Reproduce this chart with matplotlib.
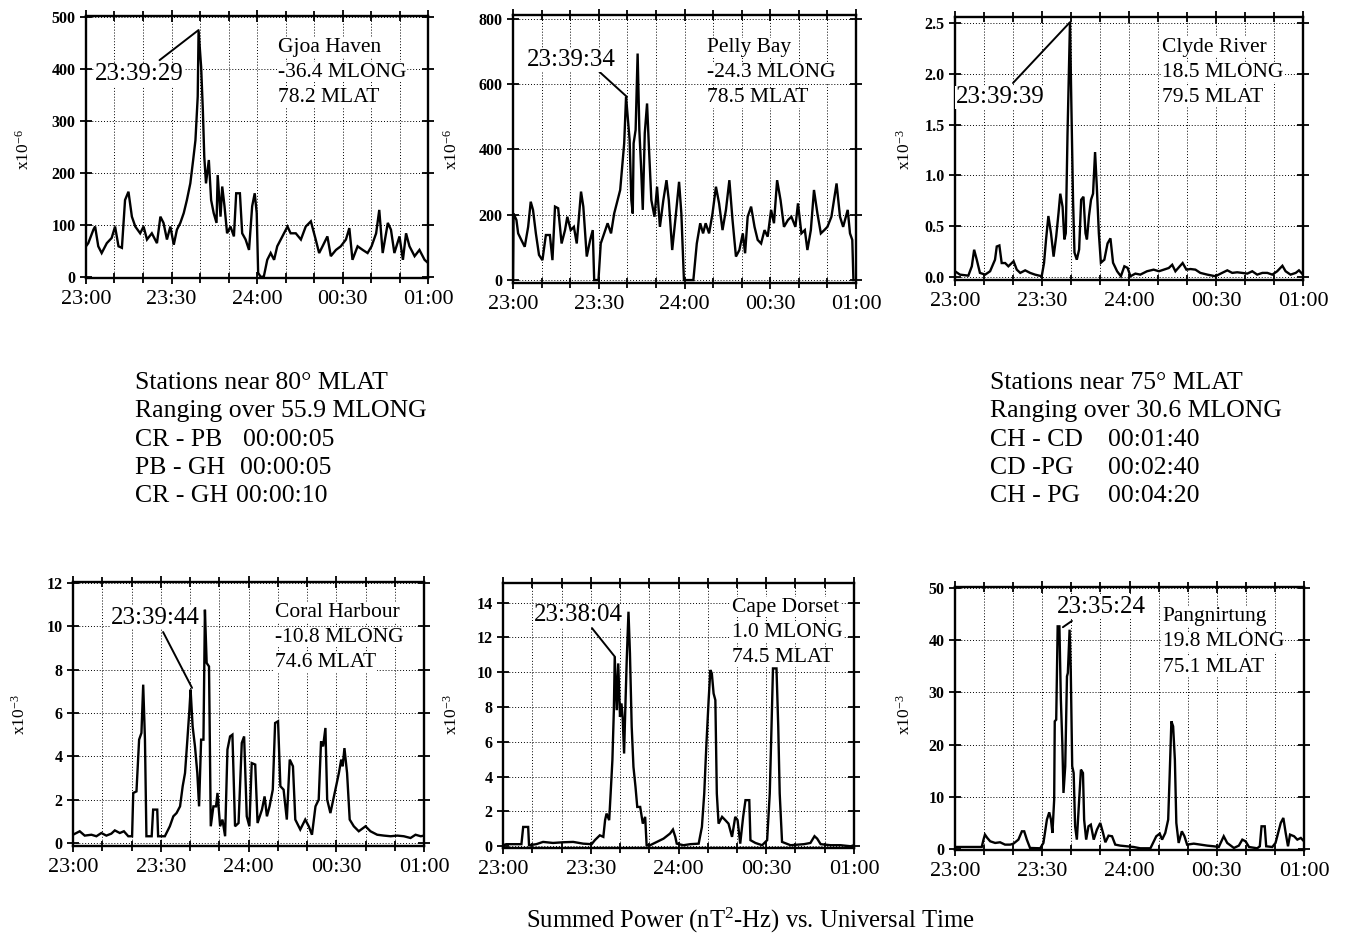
import matplotlib
matplotlib.use('Agg')
import matplotlib.pyplot as plt
from matplotlib.ticker import MultipleLocator, FormatStrFormatter

plt.rcParams['font.family'] = ['Liberation Serif', 'DejaVu Serif']
plt.rcParams['mathtext.fontset'] = 'custom'
plt.rcParams['mathtext.rm'] = 'Liberation Serif'
plt.rcParams['mathtext.it'] = 'Liberation Serif:italic'
plt.rcParams['mathtext.default'] = 'regular'

# ---------------- data (minutes after 23:00 UT, summed power) ----------------
x_tick_labels = ['23:00', '23:30', '24:00', '00:30', '01:00']

gh_t = [0, 0.8, 2.6, 3.2, 4.3, 5.5, 7.3, 9.0, 10.2, 11.4, 12.6, 13.7, 14.9, 16.1, 17.3, 19.0, 20.2, 21.4,
        23.1, 24.9, 26.1, 27.2, 28.4, 29.6, 30.8, 31.9, 33.1, 34.3, 35.4, 36.6, 37.6, 38.4, 39.2, 39.5,
        40.4, 41.0, 41.5, 42.1, 43.1, 43.9, 44.8, 45.8, 46.2, 47.2, 47.8, 48.6, 49.5, 50.7, 51.9, 52.7,
        54.0, 54.8, 56.0, 57.2, 58.3, 59.2, 59.9, 60.4, 61.3, 62.4, 63.6, 64.8, 66.0, 67.1, 68.9, 70.7,
        71.8, 73.6, 75.4, 77.1, 78.9, 80.6, 81.8, 83.0, 84.7, 85.9, 87.7, 89.4, 91.2, 92.4, 93.5, 95.3,
        97.1, 98.8, 100.2, 101.8, 102.9, 104.1, 105.9, 107.0, 108.2, 110.0, 111.2, 112.3, 113.5, 115.3,
        117.0, 118.8, 120]
gh_v = [59, 65, 91, 97, 59, 46, 65, 75, 97, 59, 56, 148, 164, 116, 97, 84, 97, 72,
        84, 65, 116, 104, 72, 97, 62, 91, 104, 123, 148, 180, 225, 263, 347, 474,
        404, 321, 231, 180, 225, 148, 123, 104, 196, 116, 174, 136, 84, 97, 78, 161,
        161, 84, 72, 52, 136, 161, 123, 8, 0, 1, 33, 46, 33, 59, 78, 97,
        84, 84, 72, 97, 107, 72, 46, 59, 78, 40, 52, 59, 72, 94, 33, 59,
        52, 46, 59, 84, 129, 46, 104, 91, 46, 78, 33, 84, 59, 40,
        52, 33, 27]

pb_t = [0, 0.2, 1.2, 1.8, 2.9, 4.1, 5.3, 6.2, 7.0, 8.0, 9.1, 10.3, 11.5, 12.9, 13.8, 14.7, 15.8, 17.0,
        18.2, 19.0, 20.2, 21.3, 22.3, 23.8, 24.6, 25.8, 27.0, 27.9, 28.4, 29.9, 30.7, 31.9, 33.1, 34.3,
        35.4, 36.6, 37.5, 38.5, 38.9, 39.55, 40.8, 41.4, 41.9, 42.2, 42.9, 43.6, 44.2, 44.8, 45.4, 46.1,
        46.9, 47.6, 48.4, 49.5, 50.4, 51.4, 52.6, 53.7, 54.5, 55.7, 56.9, 58.1, 58.9, 59.8, 63.1, 64.3,
        65.5, 66.5, 67.4, 68.6, 69.8, 71.0, 72.1, 73.3, 74.5, 75.7, 76.8, 78.0, 79.2, 80.4, 81.2, 82.1,
        83.3, 84.5, 85.6, 86.8, 88.0, 89.1, 90.3, 91.3, 92.4, 93.6, 94.8, 96.2, 97.4, 98.8, 99.7, 100.9,
        102.1, 103.0, 104.2, 105.3, 106.5, 107.7, 108.9, 110.0, 111.4, 113.2, 114.4, 115.5, 117.1, 117.9,
        118.7, 119.1]
pb_v = [0, 204, 184, 143, 123, 102, 163, 240, 215, 143, 77, 61, 138, 138, 61, 225, 220, 112,
        153, 194, 153, 163, 112, 271, 225, 72, 123, 153, 0, 0, 112, 143, 174, 143,
        204, 245, 276, 378, 419, 562, 429, 245, 204, 419, 460, 694, 460, 347, 215, 450,
        541, 398, 245, 194, 286, 163, 245, 306, 245, 92, 194, 301, 204, 0, 0, 112,
        174, 143, 174, 143, 204, 286, 235, 153, 215, 306, 184, 72, 92, 143, 82, 194,
        225, 163, 123, 112, 153, 133, 215, 174, 306, 245, 163, 184, 194, 163, 235, 143,
        153, 92, 153, 276, 204, 143, 153, 163, 194, 296, 194, 163, 215, 143,
        123, 0]

cr_t = [0, 1.7, 4.6, 5.8, 6.6, 7.5, 8.6, 10.4, 12.1, 13.8, 14.4, 15.3, 16.1, 17.3, 18.4, 20.2, 21.3,
        22.5, 24.2, 25.9, 27.6, 29.9, 30.7, 31.4, 32.2, 33.1, 34.0, 34.9, 35.7, 36.3, 37.1, 37.7, 38.2,
        38.8, 39.65, 40.1, 40.7, 41.2, 42.0, 42.8, 43.5, 44.3, 45.0, 45.5, 46.2, 46.9, 47.6, 48.3, 48.9,
        49.6, 50.3, 51.5, 52.6, 53.6, 54.5, 55.9, 57.2, 58.4, 59.5, 60.5, 62.2, 63.9, 66.2, 68.5, 70.3,
        72.0, 73.7, 74.9, 76.0, 77.5, 78.5, 79.8, 81.2, 82.9, 84.6, 87.0, 89.8, 92.1, 93.9, 95.6, 97.3,
        99.0, 100.8, 102.5, 104.2, 106.0, 107.7, 109.4, 111.1, 112.9, 114.0, 115.7, 117.5, 118.6, 120]
cr_v = [0.056, 0.023, 0.013, 0.105, 0.268, 0.17, 0.04, 0.023, 0.056, 0.17, 0.30, 0.31, 0.137, 0.137,
        0.105, 0.154, 0.072, 0.04, 0.065, 0.04, 0.023, 0.007, 0.137, 0.37, 0.60, 0.43, 0.20, 0.40,
        0.63, 0.82, 0.69, 0.37, 0.43, 1.41, 2.51, 1.74, 0.76, 0.24, 0.17, 0.27, 0.76, 0.79, 0.43,
        0.37, 0.60, 0.76, 0.82, 1.23, 0.89, 0.43, 0.14, 0.17, 0.33, 0.38, 0.14, 0.056, 0.007, 0.105,
        0.09, 0.007, 0.033, 0.023, 0.056, 0.072, 0.056, 0.072, 0.088, 0.12, 0.056, 0.105, 0.137,
        0.072, 0.078, 0.072, 0.04, 0.023, 0.007, 0.04, 0.065, 0.04, 0.046, 0.04, 0.033, 0.056,
        0.023, 0.04, 0.04, 0.023, 0.056, 0.11, 0.056, 0.023, 0.04, 0.065, 0.023]

ch_t = [0, 2.3, 4.0, 6.3, 8.0, 9.7, 11.4, 13.1, 14.3, 16.0, 17.4, 18.9, 20.2, 20.6, 21.7, 22.6, 23.4,
        24.0, 24.6, 25.1, 26.9, 27.4, 28.8, 29.1, 31.4, 33.1, 34.3, 35.4, 36.6, 37.5, 38.3, 39.1, 39.8,
        40.2, 40.9, 41.7, 42.5, 43.1, 43.8, 44.6, 45.1, 45.7, 46.5, 47.1, 48.0, 48.9, 49.4, 50.3, 51.1,
        52.0, 52.8, 53.7, 54.5, 55.4, 56.6, 57.7, 58.5, 59.4, 60.3, 61.1, 62.3, 63.1, 64.6, 65.5, 66.3,
        67.2, 68.3, 69.1, 70.1, 70.9, 72.0, 73.1, 74.1, 75.2, 76.0, 77.7, 79.4, 80.6, 81.7, 82.9, 84.0,
        84.8, 85.5, 86.3, 86.9, 88.0, 89.7, 90.9, 91.7, 92.2, 92.8, 93.7, 94.6, 96.0, 97.7, 100.0,
        101.7, 104.0, 106.3, 108.6, 110.9, 113.1, 115.4, 117.1, 118.9, 120]
ch_v = [0.38, 0.54, 0.34, 0.38, 0.31, 0.46, 0.34, 0.43, 0.58, 0.46, 0.54, 0.31, 0.31, 2.31, 2.38,
        4.77, 5.08, 7.31, 4.77, 0.31, 0.31, 1.54, 1.54, 0.31, 0.31, 0.77, 1.23, 1.38, 1.69, 2.62,
        3.23, 4.77, 6.15, 7.08, 5.38, 4.46, 3.23, 1.69, 4.77, 4.77, 10.77, 8.31, 8.15, 0.77, 1.69,
        1.69, 2.31, 0.77, 1.08, 0.31, 4.31, 4.92, 5.0, 0.77, 0.92, 4.62, 4.92, 1.23, 0.77, 3.69,
        3.62, 0.92, 1.54, 2.15, 1.23, 1.69, 2.46, 5.54, 5.62, 2.62, 2.46, 1.08, 3.85, 3.54, 1.08,
        0.62, 1.08, 0.77, 0.38, 1.69, 2.0, 4.69, 4.46, 5.31, 2.0, 1.38, 2.46, 3.23, 3.85, 3.54,
        4.38, 3.23, 1.08, 0.77, 0.54, 0.77, 0.54, 0.38, 0.34, 0.31, 0.34, 0.31, 0.23, 0.38, 0.31, 0.34]

cd_t = [0, 1.1, 6.3, 6.9, 8.6, 8.9, 11.4, 13.7, 17.1, 20.6, 24.0, 27.4, 30.3, 31.4, 33.1, 34.3, 34.9,
        35.4, 36.3, 36.8, 37.4, 37.9, 38.2, 38.9, 39.4, 40.0, 40.5, 40.9, 41.4, 41.8, 42.3, 42.9, 43.4,
        44.0, 44.6, 45.3, 45.9, 46.9, 47.8, 48.6, 49.1, 50.3, 52.6, 54.9, 57.1, 58.1, 58.9, 59.4, 61.7,
        64.0, 66.9, 68.0, 68.8, 69.5, 70.3, 70.9, 71.4, 72.0, 72.6, 73.1, 73.7, 74.9, 76.0, 77.1, 78.3,
        79.4, 80.2, 81.1, 82.1, 82.9, 84.2, 84.6, 86.3, 88.6, 90.3, 91.2, 91.8, 92.3, 93.5, 94.1, 94.6,
        95.4, 98.3, 102.9, 105.1, 106.5, 107.4, 108.6, 112.0, 115.4, 118.9, 120]
cd_v = [0.06, 0.12, 0.12, 1.11, 1.11, 0.06, 0.12, 0.25, 0.19, 0.23, 0.25, 0.15, 0.12, 0.35, 0.63,
        0.54, 1.5, 1.88, 1.5, 3.03, 4.95, 7.82, 10.89, 7.82, 10.51, 7.44, 8.21, 7.44, 5.33, 7.82,
        10.7, 13.48, 11.09, 6.87, 4.56, 3.41, 2.26, 2.26, 1.3, 1.69, 0.06, 0.06, 0.25, 0.44, 0.73,
        0.96, 0.54, 0.15, 0.06, 0.12, 0.15, 1.11, 3.03, 5.72, 8.4, 10.13, 9.93, 8.78, 8.4, 3.03,
        1.3, 1.69, 1.5, 1.3, 0.54, 1.69, 1.5, 0.15, 1.69, 2.65, 2.65, 0.35, 0.19, 0.06, 0.35,
        3.03, 6.87, 10.22, 10.22, 6.87, 3.03, 0.25, 0.06, 0.12, 0.19, 0.58, 0.44, 0.12, 0.06, 0.06,
        0.0, 0.06]

pg_t = [0, 4.0, 9.2, 9.8, 10.3, 11.1, 12.1, 13.8, 15.5, 17.2, 19.0, 20.1, 21.8, 23.0, 23.8, 24.7, 25.8,
        29.3, 30.4, 31.6, 32.4, 33.0, 33.5, 34.1, 34.3, 34.8, 35.3, 35.9, 36.4, 36.9, 37.3, 37.9, 38.5,
        38.8, 39.4, 39.8, 40.3, 40.8, 41.3, 41.9, 42.7, 43.3, 44.0, 44.4, 45.1, 45.9, 46.7, 47.7, 48.8,
        49.95, 50.9, 51.7, 52.8, 54.0, 55.1, 56.8, 59.1, 61.4, 63.7, 67.2, 69.2, 70.4, 71.2, 72.3, 73.3,
        73.8, 74.4, 75.0, 75.6, 76.1, 76.9, 78.0, 78.9, 79.8, 82.1, 84.4, 86.7, 89.0, 90.7, 92.4, 93.6,
        95.9, 97.6, 98.8, 99.9, 101.1, 103.9, 104.8, 105.4, 106.5, 107.0, 109.1, 110.2, 112.0, 112.9,
        113.7, 114.5, 115.2, 116.6, 117.7, 118.9, 120]
pg_v = [0.38, 0.38, 0.38, 1.79, 2.75, 2.11, 1.47, 1.15, 1.28, 0.83, 0.83, 1.02, 1.79, 3.38, 3.38, 1.79,
        0.19, 0.13, 1.15, 5.62, 7.02, 5.62, 3.07, 9.45, 24.46, 24.78, 42.66, 42.66, 28.61, 20.31, 10.73,
        15.84, 33.08, 33.72, 42.02, 34.36, 15.84, 14.56, 4.34, 1.79, 9.45, 15.2, 14.56, 5.62, 1.79, 4.34,
        4.66, 1.79, 3.7, 4.98, 3.07, 1.28, 2.55, 2.43, 0.83, 0.64, 0.51, 0.38, 0.13, 0.13, 2.43, 2.94,
        1.79, 3.07, 5.62, 13.92, 24.46, 23.5, 17.11, 4.98, 1.15, 3.38, 2.43, 0.83, 1.02, 0.83, 0.64,
        0.51, 0.38, 2.43, 1.15, 0.19, 0.64, 1.79, 1.47, 0.38, 0.13, 0.51, 4.34, 4.34, 0.51, 0.38, 1.15,
        4.98, 5.94, 3.07, 0.51, 2.75, 2.43, 1.79, 2.11, 1.47]

stations = ['Gjoa Haven', 'Pelly Bay', 'Clyde River', 'Coral Harbour', 'Cape Dorset', 'Pangnirtung']
mlong = ['-36.4 MLONG', '-24.3 MLONG', '18.5 MLONG', '-10.8 MLONG', '1.0 MLONG', '19.8 MLONG']
mlat = ['78.2 MLAT', '78.5 MLAT', '79.5 MLAT', '74.6 MLAT', '74.5 MLAT', '75.1 MLAT']
onset_labels = ['23:39:29', '23:39:34', '23:39:39', '23:39:44', '23:38:04', '23:35:24']
scale_labels = ['x10$^{-6}$', 'x10$^{-6}$', 'x10$^{-3}$', 'x10$^{-3}$', 'x10$^{-3}$', 'x10$^{-3}$']
series_t = [gh_t, pb_t, cr_t, ch_t, cd_t, pg_t]
series_v = [gh_v, pb_v, cr_v, ch_v, cd_v, pg_v]

left_block = ['Stations near 80° MLAT', 'Ranging over 55.9 MLONG']
left_pairs = [('CR - PB', '00:00:05'), ('PB - GH', '00:00:05'), ('CR - GH', '00:00:10')]
right_block = ['Stations near 75° MLAT', 'Ranging over 30.6 MLONG']
right_pairs = [('CH - CD', '00:01:40'), ('CD -PG', '00:02:40'), ('CH - PG', '00:04:20')]

# ---------------- layout / style ----------------
W, H = 1347, 947
fig = plt.figure(figsize=(W / 100, H / 100), dpi=100)

boxes = [(86, 16, 428, 278), (513, 15, 856, 283), (955, 17, 1303, 280),
         (73, 582, 424, 846), (503, 583, 854, 848), (955, 587, 1304, 850)]
ylims = [(-2, 502), (-9, 812), (-0.03, 2.56), (-0.14, 12.05), (-0.1, 15.13), (-0.2, 50.2)]
ysteps = [100, 200, 0.5, 2, 2, 10]
yfmts = ['%d', '%d', '%.1f', '%d', '%d', '%d']
stn_xfrac = [0.56, 0.566, 0.595, 0.575, 0.652, 0.595]
stn_ypx = [47, 48, 47, 612, 607, 617]
ann_text_xy = [(18.6, 390), (20.3, 674), (15.5, 1.77), (28.0, 10.39), (25.6, 13.29), (50.5, 46.37)]
ann_from = [(25.8, 417), (27.6, 659), (20.0, 1.91), (30.8, 9.74), (30.4, 12.54), (37.1, 42.5)]
ann_to = [(39.5, 475), (39.9, 561), (39.7, 2.51), (40.7, 7.16), (38.3, 10.88), (40.2, 43.7)]
ylabel_px = [(24, 150), (452, 150), (905, 150), (20, 715), (452, 715), (905, 715)]

for i in range(6):
    l, t, r, b = boxes[i]
    ax = fig.add_axes([l / W, 1 - b / H, (r - l) / W, (b - t) / H])
    ax.plot(series_t[i], series_v[i], color='black', lw=1.7, solid_joinstyle='miter')
    ax.set_xlim(0, 120)
    ax.set_ylim(*ylims[i])
    ax.set_xticks([0, 30, 60, 90, 120])
    ax.set_xticklabels(x_tick_labels)
    ax.xaxis.set_minor_locator(MultipleLocator(10))
    ax.yaxis.set_major_locator(MultipleLocator(ysteps[i]))
    ax.yaxis.set_major_formatter(FormatStrFormatter(yfmts[i]))
    ax.tick_params(axis='both', which='both', direction='inout', top=True, right=True,
                   width=1.3, color='black')
    ax.tick_params(axis='both', which='major', length=9)
    ax.tick_params(axis='x', which='minor', length=7)
    ax.tick_params(axis='x', which='major', labelsize=16, pad=4)
    ax.tick_params(axis='y', which='major', labelsize=11.5, pad=3)
    for lab in ax.get_yticklabels():
        lab.set_fontweight('bold')
    ax.grid(True, axis='x', which='both', linestyle=(0, (1, 2)), color='black', lw=0.7)
    ax.grid(True, axis='y', which='major', linestyle=(0, (1, 2)), color='black', lw=0.7)
    for sp in ax.spines.values():
        sp.set_linewidth(1.7)
    step = 25 / (b - t)
    y0 = (b - stn_ypx[i]) / (b - t)
    for k, line in enumerate([stations[i], mlong[i], mlat[i]]):
        ax.text(stn_xfrac[i], y0 - k * step, line, transform=ax.transAxes, ha='left', va='center',
                fontsize=15.5, zorder=5,
                bbox=dict(facecolor='white', edgecolor='none', pad=0.5))
    ax.annotate('', xy=ann_to[i], xytext=ann_from[i],
                arrowprops=dict(arrowstyle='-', lw=1.4, color='black', shrinkA=0, shrinkB=0))
    ax.text(ann_text_xy[i][0], ann_text_xy[i][1], onset_labels[i], ha='center', va='center',
            fontsize=18, zorder=5, bbox=dict(facecolor='white', edgecolor='none', pad=0.3))
    fig.text(ylabel_px[i][0] / W, 1 - ylabel_px[i][1] / H, scale_labels[i], rotation=90,
             ha='center', va='center', fontsize=12.5)

# middle text blocks
row_y = [383, 411, 440, 468, 496]
left_time_x = [243, 240, 236]
right_time_x = [1108, 1108, 1108]
for k, line in enumerate(left_block):
    fig.text(135 / W, 1 - row_y[k] / H, line, ha='left', va='center', fontsize=18.5)
for k, (a, b_) in enumerate(left_pairs):
    fig.text(135 / W, 1 - row_y[k + 2] / H, a, ha='left', va='center', fontsize=18.5)
    fig.text(left_time_x[k] / W, 1 - row_y[k + 2] / H, b_, ha='left', va='center', fontsize=18.5)
for k, line in enumerate(right_block):
    fig.text(990 / W, 1 - row_y[k] / H, line, ha='left', va='center', fontsize=18.5)
for k, (a, b_) in enumerate(right_pairs):
    fig.text(990 / W, 1 - row_y[k + 2] / H, a, ha='left', va='center', fontsize=18.5)
    fig.text(right_time_x[k] / W, 1 - row_y[k + 2] / H, b_, ha='left', va='center', fontsize=18.5)

fig.text(750 / W, 1 - 920 / H, 'Summed Power (nT$^{2}$-Hz) vs. Universal Time',
         ha='center', va='center', fontsize=17.7)

fig.savefig('out.png', dpi=100, facecolor='white')
